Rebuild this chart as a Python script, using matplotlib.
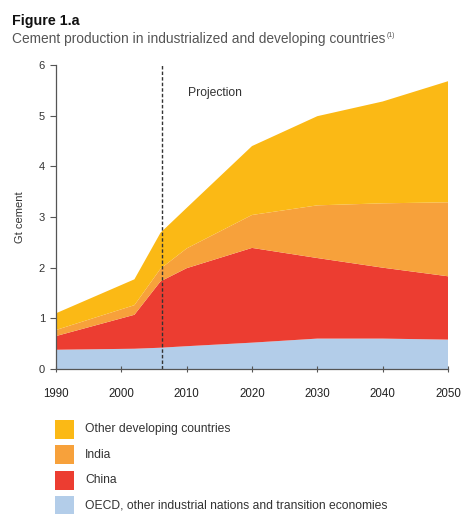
import matplotlib
matplotlib.use("Agg")
import matplotlib.pyplot as plt
from matplotlib.patches import Rectangle

plt.rcParams['font.family'] = ['Liberation Sans', 'DejaVu Sans']

years = [1990, 2002, 2006, 2010, 2020, 2030, 2040, 2050]
oecd = [0.38, 0.40, 0.42, 0.45, 0.52, 0.60, 0.60, 0.58]
china = [0.27, 0.67, 1.31, 1.54, 1.87, 1.59, 1.40, 1.25]
india = [0.12, 0.19, 0.25, 0.39, 0.65, 1.04, 1.27, 1.46]
other = [0.33, 0.51, 0.71, 0.80, 1.36, 1.76, 2.01, 2.39]

series_labels = ["OECD, other industrial nations and transition economies",
                 "China", "India", "Other developing countries"]
colors = ["#b3cde9", "#ec3d31", "#f7a13b", "#fbb915"]

xticks = [1990, 2000, 2010, 2020, 2030, 2040, 2050]
yticks = [0, 1, 2, 3, 4, 5, 6]
projection_year = 2006.2

fig = plt.figure(figsize=(4.63, 5.14), dpi=100)
ax = fig.add_axes([56/463, 1-369/514, 392/463, 304/514])

ax.stackplot(years, oecd, china, india, other, colors=colors, linewidth=0)
ax.plot([projection_year, projection_year], [0, 6], color="#333333",
        linestyle=(0, (2.5, 1.5)), lw=1.0)
ax.text(2010.2, 5.45, "Projection", fontsize=8.7, color="#333333", va="center")

ax.set_xlim(1990, 2050)
ax.set_ylim(0, 6)
ax.set_xticks(xticks)
ax.set_yticks(yticks)
for s in ["top", "right"]:
    ax.spines[s].set_visible(False)
for s in ["left", "bottom"]:
    ax.spines[s].set_color("#555555")
    ax.spines[s].set_linewidth(0.9)
ax.tick_params(axis="y", direction="out", length=4, width=0.8, color="#555555",
               labelsize=8, labelcolor="#333333", pad=4)
ax.tick_params(axis="x", direction="inout", length=5, width=0.8, color="#555555",
               labelsize=8.3, labelcolor="#222222", pad=11)
ax.set_ylabel("Gt cement", fontsize=8, color="#333333", labelpad=10)

fig.text(12/463, 1-25/514, "Figure 1.a", fontsize=10.3, fontweight="bold", color="#111111")
sub = fig.text(12/463, 1-43/514, "Cement production in industrialized and developing countries",
               fontsize=9.9, color="#555555")
ax.annotate("(1)", xy=(1, 1), xycoords=sub, xytext=(1, 0), textcoords="offset points",
            fontsize=5, color="#555555", va="top", ha="left", annotation_clip=False)

# legend (top to bottom: reverse order of stack)
y0 = 429
for i, (lab, col) in enumerate(zip(series_labels[::-1], colors[::-1])):
    yc = y0 + i * 25.5
    fig.add_artist(Rectangle((55/463, 1-(yc+9.5)/514), 19/463, 19/514,
                             transform=fig.transFigure, facecolor=col, edgecolor="none"))
    fig.text(85/463, 1-yc/514, lab, fontsize=8.7, color="#333333", va="center")

fig.savefig("out.png", dpi=100)
